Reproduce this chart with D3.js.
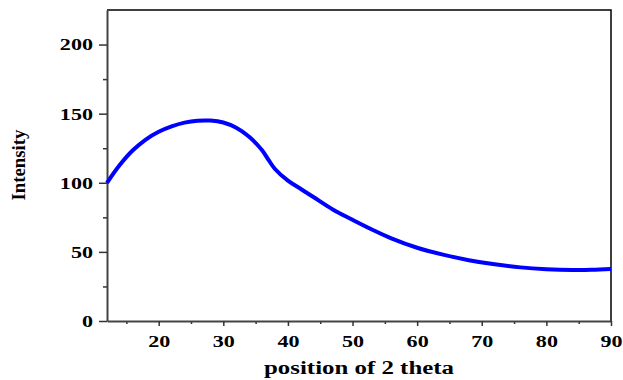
<!DOCTYPE html>
<html lang="en">
<head>
    <meta charset="UTF-8">
    <title>Intensity vs position of 2 theta</title>
    <script src="https://cdn.jsdelivr.net/npm/d3@7"></script>
</head>
<style>
    body {
        margin: 0;
        background: #fff;
    }
    svg text {
        font-family: "Liberation Serif", "Times New Roman", Times, serif;
        font-weight: bold;
    }
</style>
<body>
    <div id="graphDiv"></div>

    <script>
        // data
        const theta = [12, 14, 16, 18, 20, 22, 24, 26, 28, 30, 32, 34, 36, 37, 38, 40, 42, 44, 47, 50, 53, 56, 60, 64, 68, 72, 76, 80, 84, 87, 90];
        const intensity = [100, 113, 123.5, 131.3, 136.9, 140.8, 143.5, 144.9, 145, 143.6, 139.8, 133.3, 123.5, 116.5, 110, 101.5, 95.5, 89.5, 80.5, 73.2, 66.2, 59.8, 53, 48, 44, 41, 38.8, 37.5, 36.9, 37, 37.6];
        const xTicks = [20, 30, 40, 50, 60, 70, 80, 90];
        const yTicks = [0, 50, 100, 150, 200];

        const width = 623;
        const height = 380;
        const margin = {top: 10, right: 12, bottom: 59, left: 107};

        const data = theta.map((t, i) => ({x: t, y: intensity[i]}));

        const x = d3.scaleLinear()
            .domain([12, 90])
            .range([margin.left, width - margin.right]);

        const y = d3.scaleLinear()
            .domain([0, 225])
            .range([height - margin.bottom, margin.top]);

        const svg = d3.select("#graphDiv").append("svg")
            .attr("width", width)
            .attr("height", height);

        // minor ticks
        svg.append("g")
            .attr("transform", `translate(0,${height - margin.bottom})`)
            .call(d3.axisBottom(x).tickValues(d3.range(15, 90, 10)).tickSize(3).tickFormat(""))
            .call(g => g.select(".domain").remove())
            .selectAll("line").attr("stroke", "#333").attr("stroke-width", 1.5);

        svg.append("g")
            .attr("transform", `translate(${margin.left},0)`)
            .call(d3.axisLeft(y).tickValues([25, 75, 125, 175]).tickSize(4).tickFormat(""))
            .call(g => g.select(".domain").remove())
            .selectAll("line").attr("stroke", "#333").attr("stroke-width", 1.5);

        // top and right frame
        svg.append("path")
            .attr("d", `M${x(12)},${y(225)}H${x(90)}V${y(0)}`)
            .attr("fill", "none")
            .attr("stroke", "#000")
            .attr("stroke-width", 1.5);

        // x axis
        const xAxis = svg.append("g")
            .attr("transform", `translate(0,${height - margin.bottom})`)
            .call(d3.axisBottom(x).tickValues(xTicks).tickSize(5).tickSizeOuter(0).tickPadding(9));
        xAxis.select(".domain").attr("stroke", "#444").attr("stroke-width", 2);
        xAxis.selectAll("line").attr("stroke", "#333").attr("stroke-width", 1.5);
        xAxis.selectAll("text")
            .attr("fill", "#000")
            .style("font-size", "17px")
            .attr("transform", "scale(1.3,1)");

        // y axis
        const yAxis = svg.append("g")
            .attr("transform", `translate(${margin.left},0)`)
            .call(d3.axisLeft(y).tickValues(yTicks).tickSize(8).tickSizeOuter(0));
        yAxis.select(".domain").attr("stroke", "#444").attr("stroke-width", 2);
        yAxis.selectAll("line").attr("stroke", "#333").attr("stroke-width", 1.5);
        yAxis.selectAll("text")
            .attr("fill", "#000")
            .attr("x", -10.8)
            .style("font-size", "17px")
            .attr("transform", "scale(1.3,1)");

        // curve
        svg.append("path")
            .datum(data)
            .attr("fill", "none")
            .attr("stroke", "#0000ff")
            .attr("stroke-width", 4)
            .attr("d", d3.line()
                .x(d => x(d.x))
                .y(d => y(d.y))
                .curve(d3.curveCatmullRom));

        // labels
        svg.append("text")
            .attr("x", (x(12) + x(90)) / 2)
            .attr("y", 374)
            .attr("text-anchor", "middle")
            .style("font-size", "18px")
            .attr("textLength", 190)
            .attr("lengthAdjust", "spacingAndGlyphs")
            .text("position of 2 theta");

        svg.append("text")
            .attr("text-anchor", "middle")
            .attr("transform", "translate(25,165)rotate(-90)")
            .style("font-size", "19px")
            .attr("textLength", 71)
            .attr("lengthAdjust", "spacingAndGlyphs")
            .text("Intensity");
    </script>
</body>
</html>
